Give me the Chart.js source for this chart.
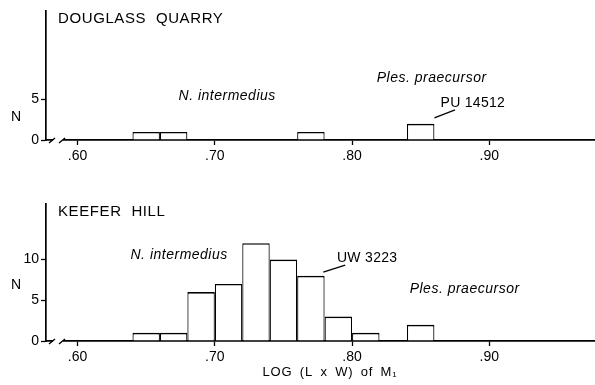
<!DOCTYPE html>
<html>
<head>
<meta charset="utf-8">
<script src="https://cdn.jsdelivr.net/npm/chart.js@4"></script>
<style>
  body { margin: 0; background: #fff; }
  canvas { position: absolute; left: 0; }
  #js--chart--1 { top: 0; }
  #js--chart--2 { top: 180px; }
</style>
</head>
<body>
<canvas id="js--chart--1" width="595" height="175"></canvas>
<canvas id="js--chart--2" width="595" height="205"></canvas>
<script>
// lower edge of each 0.02 class of log(L x W) of M1
const binStarts = [0.64, 0.66, 0.68, 0.70, 0.72, 0.74, 0.76, 0.78, 0.80, 0.82, 0.84];
const douglassCounts = [1, 1, 0, 0, 0, 0, 1, 0, 0, 0, 2];
const keeferCounts = [1, 1, 6, 7, 12, 10, 8, 3, 1, 0, 2];
const xTicks = [0.60, 0.70, 0.80, 0.90];
const douglassYTicks = [0, 5];
const keeferYTicks = [0, 5, 10];

const FONT = "'Liberation Sans', Arial, sans-serif";

function binData(counts) {
    return binStarts.map((s, i) => ({ x: s + 0.01, y: counts[i] }));
}

// text written into the panel (titles, taxon names, specimen numbers)
const notes = {
    id: "notes",
    afterDraw(chart, args, opts) {
        const ctx = chart.ctx;
        const area = chart.chartArea;
        const xs = chart.scales.x, ys = chart.scales.y;
        ctx.save();
        ctx.fillStyle = "#000";
        ctx.strokeStyle = "#000";

        // axis break on the x axis
        ctx.fillStyle = "#fff";
        ctx.fillRect(area.left + 7, area.bottom - 2, 10, 4);
        ctx.lineWidth = 1.4;
        ctx.beginPath();
        ctx.moveTo(area.left + 3, area.bottom + 3);
        ctx.lineTo(area.left + 9, area.bottom - 2);
        ctx.moveTo(area.left + 13, area.bottom + 3);
        ctx.lineTo(area.left + 19, area.bottom - 2);
        ctx.stroke();
        ctx.fillStyle = "#000";

        // panel title
        ctx.font = "15px " + FONT;
        ctx.letterSpacing = "0.6px";
        ctx.wordSpacing = "5px";
        ctx.textAlign = "left";
        ctx.textBaseline = "alphabetic";
        ctx.fillText(opts.title, area.left + 12, area.top + 12);
        ctx.wordSpacing = "0px";

        // y axis letter
        ctx.font = "14px " + FONT;
        ctx.letterSpacing = "0px";
        ctx.textAlign = "center";
        ctx.textBaseline = "middle";
        ctx.fillText("N", 16, opts.nY);

        ctx.textBaseline = "alphabetic";
        opts.labels.forEach(l => {
            ctx.font = (l.italic ? "italic 14px " : "14px ") + FONT;
            ctx.letterSpacing = l.italic ? "0.5px" : "0.3px";
            ctx.fillText(l.text, xs.getPixelForValue(l.x), ys.getPixelForValue(l.y));
        });
        opts.leaders.forEach(d => {
            ctx.lineWidth = 1.3;
            ctx.beginPath();
            ctx.moveTo(xs.getPixelForValue(d[0]), ys.getPixelForValue(d[1]));
            ctx.lineTo(xs.getPixelForValue(d[2]), ys.getPixelForValue(d[3]));
            ctx.stroke();
        });

        // x axis title
        if (opts.xTitle) {
            ctx.font = "13px " + FONT;
            ctx.letterSpacing = "0.8px";
            ctx.wordSpacing = "3px";
            ctx.fillText(opts.xTitle, 330, area.bottom + 35);
        }
        ctx.restore();
    }
};

function makeConfig(counts, yMax, yTicks, xHeight, top, noteOpts) {
    return {
        type: "bar",
        data: {
            datasets: [{
                data: binData(counts),
                backgroundColor: "#fff",
                borderColor: "#000",
                borderWidth: { top: 1.7, left: 1.2, right: 1.2, bottom: 0 },
                barPercentage: 1,
                categoryPercentage: 1,
                inflateAmount: 0
            }]
        },
        options: {
            responsive: false,
            animation: false,
            devicePixelRatio: 1,
            layout: { padding: { top: top, left: 0, right: 0, bottom: 0 } },
            plugins: {
                legend: { display: false },
                tooltip: { enabled: false },
                notes: noteOpts
            },
            scales: {
                x: {
                    type: "linear",
                    offset: false,
                    min: 0.577,
                    max: 0.977,
                    afterBuildTicks: s => { s.ticks = xTicks.map(v => ({ value: v })); },
                    afterFit: s => { s.height = xHeight; },
                    grid: { offset: false, drawOnChartArea: false, color: "#000", tickLength: 5, tickWidth: 1.3 },
                    border: { display: true, color: "#000", width: 1.7 },
                    ticks: {
                        color: "#000",
                        font: { family: FONT, size: 14 },
                        padding: 3,
                        maxRotation: 0,
                        callback: v => "." + Math.round(v * 100)
                    }
                },
                y: {
                    min: 0,
                    max: yMax,
                    afterBuildTicks: s => { s.ticks = yTicks.map(v => ({ value: v })); },
                    afterFit: s => { s.width = 46; },
                    grid: { drawOnChartArea: false, color: "#000", tickLength: 5, tickWidth: 1.3 },
                    border: { display: true, color: "#000", width: 1.7 },
                    ticks: {
                        color: "#000",
                        font: { family: FONT, size: 14 },
                        padding: 2
                    }
                }
            }
        },
        plugins: [notes]
    };
}

const config = makeConfig(douglassCounts, 15.9, douglassYTicks, 35, 11, {
    title: "DOUGLASS QUARRY",
    nY: 117,
    labels: [
        { text: "N. intermedius", x: 0.709, y: 4.94, italic: true },
        { text: "Ples. praecursor", x: 0.858, y: 7.16, italic: true },
        { text: "PU 14512", x: 0.888, y: 4.07 }
    ],
    leaders: [[0.860, 2.72, 0.875, 3.70]]
});

const config2 = makeConfig(keeferCounts, 16.8, keeferYTicks, 44, 24, {
    title: "KEEFER HILL",
    nY: 105,
    labels: [
        { text: "N. intermedius", x: 0.674, y: 10.04, italic: true },
        { text: "UW 3223", x: 0.811, y: 9.67 },
        { text: "Ples. praecursor", x: 0.882, y: 5.88, italic: true }
    ],
    leaders: [[0.779, 8.45, 0.795, 9.30]],
    xTitle: "LOG (L x W) of M\u2081"
});

new Chart(document.getElementById("js--chart--1"), config);
new Chart(document.getElementById("js--chart--2"), config2);
</script>
</body>
</html>
